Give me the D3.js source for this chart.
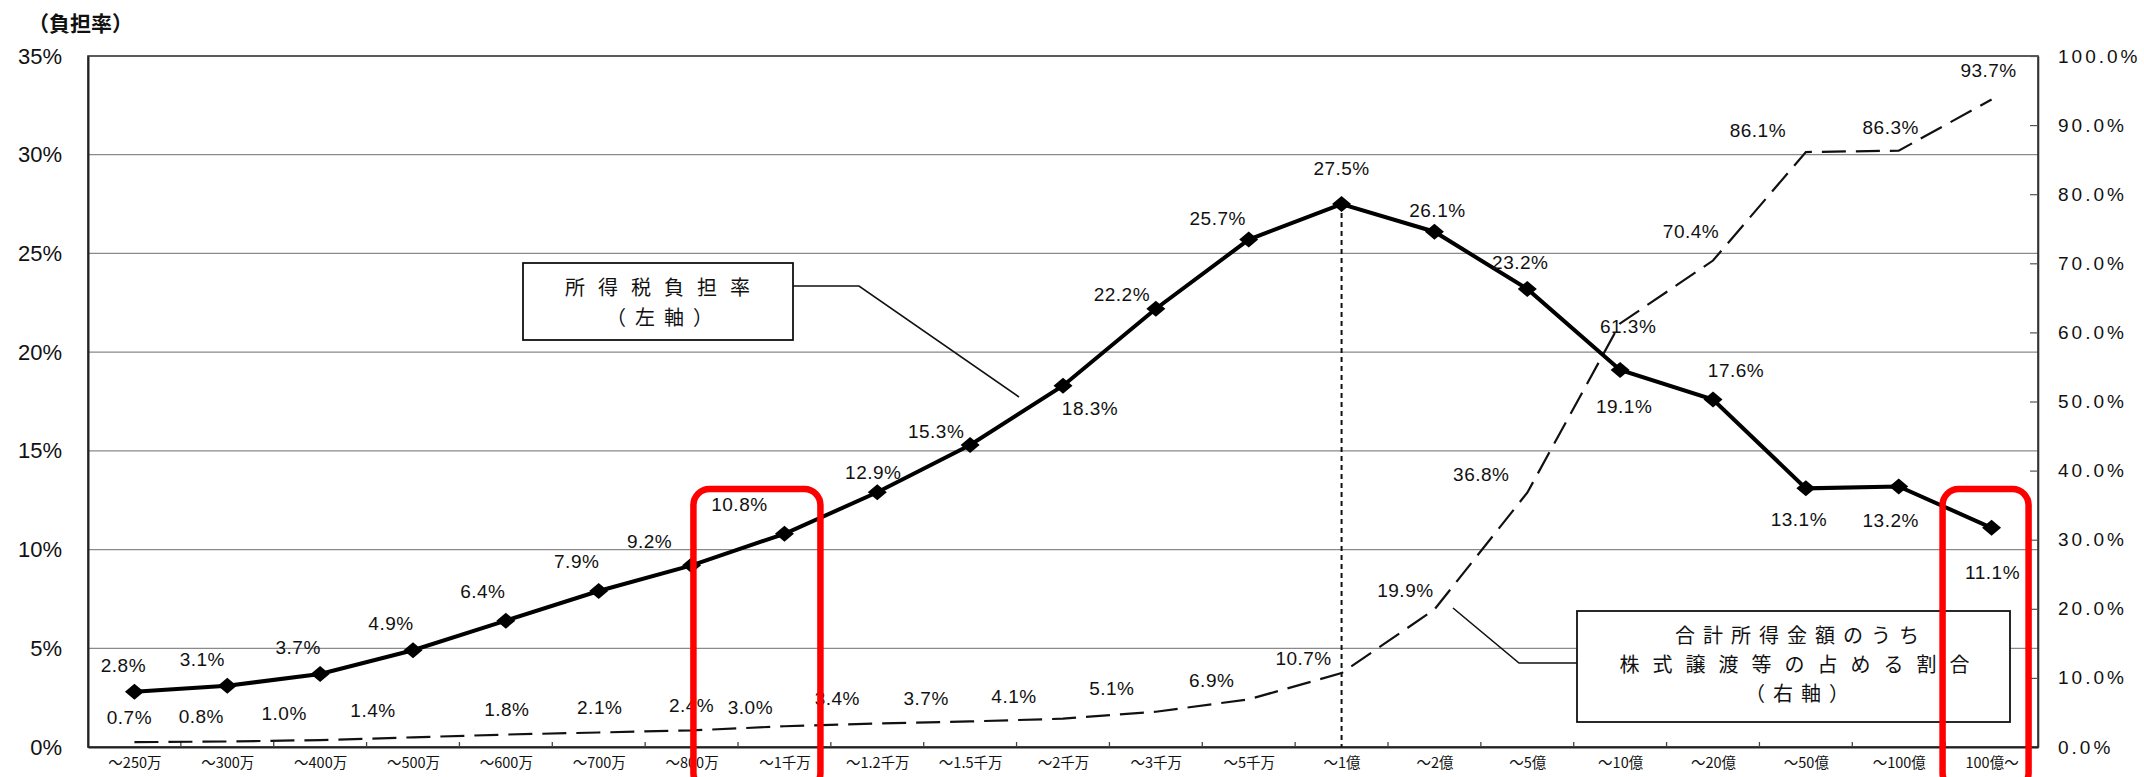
<!DOCTYPE html>
<html><head><meta charset="utf-8">
<script src="https://cdn.jsdelivr.net/npm/d3@7"></script>
<style>
html,body{margin:0;padding:0;background:#fff;}
svg{display:block;}
</style></head>
<body>
<svg id="chart" width="2144" height="777"></svg>
<script>
// ---- data ----
const categories = ["～250万","～300万","～400万","～500万","～600万","～700万","～800万","～1千万","～1.2千万","～1.5千万","～2千万","～3千万","～5千万","～1億","～2億","～5億","～10億","～20億","～50億","～100億","100億～"];
const taxBurden = [2.8,3.1,3.7,4.9,6.4,7.9,9.2,10.8,12.9,15.3,18.3,22.2,25.7,27.5,26.1,23.2,19.1,17.6,13.1,13.2,11.1];
const stockShare = [0.7,0.8,1.0,1.4,1.8,2.1,2.4,3.0,3.4,3.7,4.1,5.1,6.9,10.7,19.9,36.8,61.3,70.4,86.1,86.3,93.7];
const leftTicks = [0,5,10,15,20,25,30,35];
const rightTicks = [0,10,20,30,40,50,60,70,80,90,100];
const legend1Lines = ["所得税負担率", "（左軸）"];
const legend2Lines = ["合計所得金額のうち", "株式譲渡等の占める割合", "（右軸）"];

// ---- label placement (layout only) ----
const taxLabelOffset = [[-11,-26],[-25,-26],[-22,-26],[-22,-27],[-23,-29],[-22,-30],[-42,-24],[-45,-29],[-4,-20],[-34,-13],[27,23],[-34,-14],[-31,-21],[0,-36],[3,-21],[-7,-26],[4,37],[23,-29],[-7,31],[-8,34],[1,45]];
const shareLabelOffset = [[-5,-25],[-26,-25],[-36,-27],[-40,-27],[1,-25],[1,-25],[0,-25],[-34,-19],[-40,-25],[-44,-23],[-49,-22],[-44,-23],[-37,-19],[-38,-15],[-29,-19],[-46,-18],[8,3],[-22,-29],[-48,-22],[-8,-23],[-3,-29]];

const svg = d3.select("#chart");
const L = 88, R = 2038, T = 56, B = 747;
const numFont = "'Liberation Sans', Arial, sans-serif";
const jpFont = "'Noto Sans CJK JP', sans-serif";

const xBand = d3.scaleBand().domain(categories).range([L, R]).paddingInner(0).paddingOuter(0);
const x = d3.scalePoint().domain(categories).range([L, R]).padding(0.5);
const yL = d3.scaleLinear().domain([0, 35]).range([B, T]);
const yR = d3.scaleLinear().domain([0, 100]).range([B, T]);

// gridlines
svg.append("g").selectAll("line").data(leftTicks.filter(d => d > 0 && d < 35)).join("line")
  .attr("x1", L).attr("x2", R).attr("y1", d => yL(d)).attr("y2", d => yL(d))
  .attr("stroke", "#8a8a8a").attr("stroke-width", 1.3);

// frame
svg.append("rect").attr("x", L).attr("y", T).attr("width", R - L).attr("height", B - T)
  .attr("fill", "none").attr("stroke", "#333").attr("stroke-width", 1.6);

// left axis
const gl = svg.append("g").attr("transform", `translate(${L},0)`)
  .call(d3.axisLeft(yL).tickValues(leftTicks).tickFormat(d => d + "%").tickSize(0).tickPadding(26));
gl.select(".domain").attr("stroke", "#222").attr("stroke-width", 2);
gl.selectAll("text").attr("font-family", numFont).attr("font-size", 22).attr("fill", "#111");

// right axis
const gr = svg.append("g").attr("transform", `translate(${R},0)`)
  .call(d3.axisRight(yR).tickValues(rightTicks).tickFormat(d => d3.format(".1f")(d) + "%").tickSizeInner(-8).tickSizeOuter(0).tickPadding(20));
gr.select(".domain").attr("stroke", "#333").attr("stroke-width", 1.6);
gr.selectAll(".tick line").attr("stroke", "#555").attr("stroke-width", 1.2);
gr.selectAll("text").attr("font-family", numFont).attr("font-size", 19).attr("letter-spacing", "3px").attr("fill", "#111");

// bottom axis
const gb = svg.append("g").attr("transform", `translate(0,${B})`)
  .call(d3.axisBottom(x).tickSize(0).tickPadding(11));
gb.select(".domain").attr("stroke", "#222").attr("stroke-width", 2.2);
gb.selectAll("text").attr("font-family", jpFont).attr("font-size", 14.5).attr("fill", "#111");
svg.append("g").selectAll("line").data(categories.slice(1)).join("line")
  .attr("x1", d => xBand(d)).attr("x2", d => xBand(d)).attr("y1", B).attr("y2", B - 5)
  .attr("stroke", "#444").attr("stroke-width", 1.3);

// axis title
svg.append("text").attr("x", 28).attr("y", 31).text("（負担率）")
  .attr("font-family", jpFont).attr("font-size", 21).attr("font-weight", "bold").attr("fill", "#111");

// vertical dotted line at peak
const peakIdx = taxBurden.indexOf(d3.max(taxBurden));
svg.append("line").attr("x1", x(categories[peakIdx])).attr("x2", x(categories[peakIdx]))
  .attr("y1", yL(taxBurden[peakIdx])).attr("y2", B)
  .attr("stroke", "#111").attr("stroke-width", 2).attr("stroke-dasharray", "5,4");

// share line (dashed)
svg.append("path").datum(stockShare)
  .attr("d", d3.line().x((d, i) => x(categories[i])).y(d => yR(d)))
  .attr("fill", "none").attr("stroke", "#111").attr("stroke-width", 2.2).attr("stroke-dasharray", "24,10");

// tax line
svg.append("path").datum(taxBurden)
  .attr("d", d3.line().x((d, i) => x(categories[i])).y(d => yL(d)))
  .attr("fill", "none").attr("stroke", "#000").attr("stroke-width", 4);
svg.append("g").selectAll("path").data(taxBurden).join("path")
  .attr("transform", (d, i) => `translate(${x(categories[i])},${yL(d)})`)
  .attr("d", "M0,-8L9.5,0L0,8L-9.5,0Z").attr("fill", "#000");

// labels
svg.append("g").selectAll("text").data(taxBurden).join("text")
  .attr("x", (d, i) => x(categories[i]) + taxLabelOffset[i][0])
  .attr("y", (d, i) => yL(d) + taxLabelOffset[i][1])
  .attr("text-anchor", "middle").attr("dominant-baseline", "central")
  .attr("font-family", numFont).attr("font-size", 19).attr("letter-spacing", "0.5px").attr("fill", "#111")
  .text(d => d3.format(".1f")(d) + "%");
svg.append("g").selectAll("text").data(stockShare).join("text")
  .attr("x", (d, i) => x(categories[i]) + shareLabelOffset[i][0])
  .attr("y", (d, i) => yR(d) + shareLabelOffset[i][1])
  .attr("text-anchor", "middle").attr("dominant-baseline", "central")
  .attr("font-family", numFont).attr("font-size", 19).attr("letter-spacing", "0.5px").attr("fill", "#111")
  .text(d => d3.format(".1f")(d) + "%");

// legend box 1
svg.append("polyline").attr("points", "793,286 859,286 1019,397").attr("fill", "none").attr("stroke", "#111").attr("stroke-width", 1.6);
svg.append("rect").attr("x", 523).attr("y", 263).attr("width", 270).attr("height", 77)
  .attr("fill", "#fff").attr("stroke", "#111").attr("stroke-width", 1.8);
const ls1 = ["13px", "9px"];
legend1Lines.forEach((t, i) => {
  svg.append("text").attr("text-anchor", "middle")
    .attr("font-family", jpFont).attr("font-size", 20).attr("fill", "#111")
    .attr("x", 664).attr("y", 295 + i * 30).attr("letter-spacing", ls1[i]).text(t);
});

// legend box 2
svg.append("polyline").attr("points", "1453,608 1519,663 1577,663").attr("fill", "none").attr("stroke", "#111").attr("stroke-width", 1.6);
svg.append("rect").attr("x", 1577).attr("y", 611).attr("width", 433).attr("height", 111)
  .attr("fill", "#fff").attr("stroke", "#111").attr("stroke-width", 1.8);
const ls2 = ["8px", "13px", "8px"];
legend2Lines.forEach((t, i) => {
  svg.append("text").attr("text-anchor", "middle")
    .attr("font-family", jpFont).attr("font-size", 20).attr("fill", "#111")
    .attr("x", 1801).attr("y", 643 + i * 29).attr("letter-spacing", ls2[i]).text(t);
});

// red highlight boxes
const highlights = [[categories[7], -91, 36], [categories[20], -49, 37]];
svg.append("g").selectAll("rect").data(highlights).join("rect")
  .attr("x", d => x(d[0]) + d[1]).attr("y", 489)
  .attr("width", d => d[2] - d[1]).attr("height", 300)
  .attr("rx", 16).attr("fill", "none").attr("stroke", "#ff0000").attr("stroke-width", 6.5);
</script>
</body></html>
